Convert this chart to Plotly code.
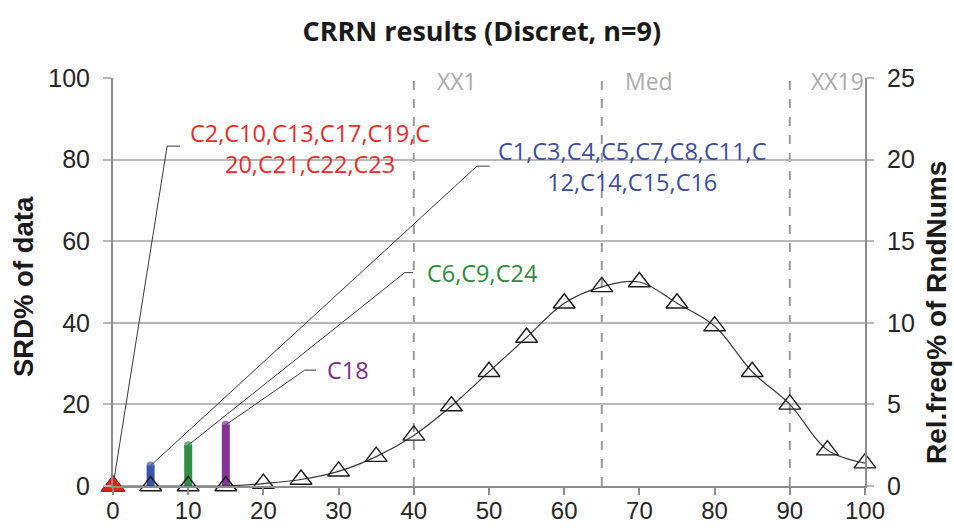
import plotly.graph_objects as go

# ---- data ----
x_bins = [0, 5, 10, 15, 20, 25, 30, 35, 40, 45, 50, 55, 60, 65, 70, 75, 80, 85, 90, 95, 100]
rel_freq = [0, 0, 0, 0, 0.15, 0.4, 0.9, 1.8, 3.1, 4.9, 7.0, 9.1, 11.2, 12.2, 12.5, 11.2, 9.8, 7.0, 5.0, 2.2, 1.4]

group_x = [0, 5, 10, 15]
group_srd = [0, 5, 10, 15]
group_colors = ["#e5231b", "#2f4ea6", "#2a8a3c", "#7d2a8f"]
group_text_colors = ["#ee2a2a", "#3b4e9c", "#2e8b3f", "#7c2c90"]
group_labels = [
    "C2,C10,C13,C17,C19,C<br>20,C21,C22,C23",
    "C1,C3,C4,C5,C7,C8,C11,C<br>12,C14,C15,C16",
    "C6,C9,C24",
    "C18",
]
# leader elbow points and label anchors (data units)
elbow_x = [7.2, 48.4, 38.8, 25.5]
elbow_y = [83.3, 78.4, 52.3, 28.4]
elbow_end_x = [8.9, 50.1, 39.9, 27.0]
label_x = [26.2, 69.1, 49.1, 31.2]
label_y = [82.8, 78.4, 52.3, 28.4]

ref_lines_x = [40, 65, 90]
ref_labels = ["XX1", "Med", "XX19"]
ref_label_x = [45.7, 71.3, 96.3]

x_ticks = list(range(0, 101, 10))
y_ticks = list(range(0, 101, 20))
y2_ticks = list(range(0, 26, 5))

Y_MAX = 100
Y2_MAX = 25

TICKFONT = dict(family="Liberation Sans, Arial", size=25, color="#262626")
LABELFONT = "Open Sans"
AXISCOL = "#8c8c8c"

fig = go.Figure()

# curve of relative frequencies (right axis)
fig.add_trace(go.Scatter(
    x=x_bins, y=rel_freq, yaxis="y2", mode="lines+markers",
    line=dict(shape="spline", smoothing=1.0, color="#3a3a3a", width=1.2),
    marker=dict(symbol="triangle-up-open", size=19, color="#1a1a1a", line=dict(width=1.4)),
    cliponaxis=False, hoverinfo="skip", showlegend=False,
))

# leader lines
for i in range(len(group_x)):
    fig.add_trace(go.Scatter(
        x=[group_x[i], elbow_x[i], elbow_end_x[i]],
        y=[group_srd[i], elbow_y[i], elbow_y[i]],
        mode="lines", line=dict(color="#3a3a3a", width=1),
        hoverinfo="skip", showlegend=False, cliponaxis=False,
    ))

# SRD bars (thick lines with rounded tops)
for i in range(1, len(group_x)):
    fig.add_trace(go.Scatter(
        x=[group_x[i], group_x[i]], y=[0, group_srd[i]],
        mode="lines+markers",
        line=dict(color=group_colors[i], width=8),
        marker=dict(size=[0, 8], color=group_colors[i], symbol="circle", line=dict(width=0)),
        opacity=0.95, hoverinfo="skip", showlegend=False, cliponaxis=False,
    ))

# red group marker at 0 (drawn on the overlaid axis so it sits on top)
fig.add_trace(go.Scatter(
    x=[group_x[0]], y=[group_srd[0] * Y2_MAX / Y_MAX], yaxis="y2", mode="markers",
    marker=dict(symbol="triangle-up", size=21, color=group_colors[0], line=dict(color="#a01010", width=1)),
    hoverinfo="skip", showlegend=False, cliponaxis=False,
))

annotations = []
for i in range(len(group_x)):
    annotations.append(dict(
        x=label_x[i], y=label_y[i], xref="x", yref="y", text=group_labels[i],
        showarrow=False, xanchor="center", yanchor="middle",
        font=dict(family=LABELFONT, size=23.5, color=group_text_colors[i]),
    ))
for i in range(len(ref_labels)):
    annotations.append(dict(
        x=ref_label_x[i], y=100, xref="x", yref="y", text=ref_labels[i],
        showarrow=False, xanchor="center", yanchor="middle", yshift=-3,
        font=dict(family=LABELFONT, size=23, color="#ababab"),
    ))
annotations.append(dict(
    x=-0.1197, y=0.49, xref="paper", yref="paper", text="<b>SRD% of data</b>",
    textangle=-90, showarrow=False, xanchor="center", yanchor="middle",
    font=dict(family="Liberation Sans, Arial", size=27.5, color="#1a1a1a"),
))
annotations.append(dict(
    x=1.095, y=0.425, xref="paper", yref="paper", text="<b>Rel.freq% of RndNums</b>",
    textangle=-90, showarrow=False, xanchor="center", yanchor="middle",
    font=dict(family="Liberation Sans, Arial", size=28, color="#1a1a1a"),
))

shapes = []
for xv in ref_lines_x:
    shapes.append(dict(
        type="line", xref="x", yref="paper", x0=xv, x1=xv, y0=0, y1=1,
        line=dict(color="#9a9a9a", width=2, dash="dash"), layer="below",
    ))

fig.update_layout(
    width=954, height=528,
    margin=dict(l=113, r=89, t=78, b=42),
    paper_bgcolor="white", plot_bgcolor="white",
    title=dict(text="<b>CRRN results (Discret, n=9)</b>", x=0.505, xanchor="center",
               y=1 - 32 / 528, yanchor="middle", yref="container",
               font=dict(family="Open Sans", size=27, color="#1a1a1a")),
    xaxis=dict(range=[0, 100], tickvals=x_ticks, showgrid=False, zeroline=False,
               showline=True, linecolor=AXISCOL, linewidth=2, ticks="outside",
               ticklen=7, tickcolor=AXISCOL, tickwidth=1.5,
               tickfont=dict(family="Liberation Sans, Arial", size=24, color="#262626"),
               automargin=False, ticklabelstandoff=-5),
    yaxis=dict(range=[0, Y_MAX], tickvals=y_ticks, showgrid=True, gridcolor="#b8b8b8",
               gridwidth=1.5, zeroline=False, showline=True, linecolor=AXISCOL, linewidth=2,
               ticks="outside", ticklen=8, tickcolor="#b8b8b8", tickwidth=1.5,
               tickfont=TICKFONT, ticklabelstandoff=8, automargin=False),
    yaxis2=dict(range=[0, Y2_MAX], tickvals=y2_ticks, overlaying="y", side="right",
                showgrid=False, zeroline=False, showline=True, linecolor=AXISCOL, linewidth=2,
                ticks="outside", ticklen=7, tickcolor="#b8b8b8", tickwidth=1.5,
                tickfont=TICKFONT, ticklabelstandoff=8, automargin=False),
    annotations=annotations, shapes=shapes, showlegend=False,
)

fig.write_html("out.html")
